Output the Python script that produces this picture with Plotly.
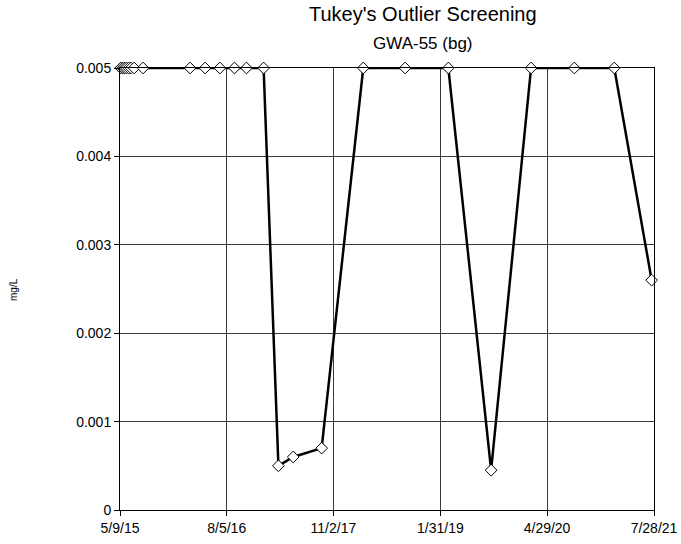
import plotly.graph_objects as go

# sample dates and concentrations (mg/L)
dates = [
    "2015-05-12", "2015-05-20", "2015-05-28", "2015-06-05", "2015-06-15",
    "2015-06-25", "2015-07-08", "2015-08-15", "2016-03-02", "2016-05-05",
    "2016-07-07", "2016-09-07", "2016-10-28", "2017-01-09", "2017-03-13",
    "2017-05-15", "2017-09-13", "2018-03-09", "2018-09-03", "2019-03-06",
    "2019-09-04", "2020-02-21", "2020-08-23", "2021-02-09", "2021-07-18",
]
values = [
    0.005, 0.005, 0.005, 0.005, 0.005,
    0.005, 0.005, 0.005, 0.005, 0.005,
    0.005, 0.005, 0.005, 0.005, 0.0005,
    0.0006, 0.0007, 0.005, 0.005, 0.005,
    0.00045, 0.005, 0.005, 0.005, 0.0026,
]

x_ticks = ["2015-05-09", "2016-08-05", "2017-11-02", "2019-01-31", "2020-04-29", "2021-07-28"]
x_labels = ["5/9/15", "8/5/16", "11/2/17", "1/31/19", "4/29/20", "7/28/21"]
y_ticks = [0, 0.001, 0.002, 0.003, 0.004, 0.005]
y_labels = ["0", "0.001", "0.002", "0.003", "0.004", "0.005"]

W, H = 681, 544
L, T, R, B = 120, 68, 27, 34
plot_w, plot_h = W - L - R, H - T - B

fig = go.Figure()
fig.add_trace(go.Scatter(
    x=dates, y=values,
    mode="lines+markers",
    line=dict(color="black", width=2.5),
    marker=dict(symbol="diamond", size=9, color="white",
                line=dict(color="black", width=1)),
    cliponaxis=False,
    showlegend=False,
))

axis_font = dict(family="Liberation Sans, Arial", size=14, color="black")

fig.update_layout(
    width=W, height=H,
    margin=dict(l=L, r=R, t=T, b=B),
    paper_bgcolor="white",
    plot_bgcolor="white",
    font=dict(family="Liberation Sans, Arial", color="black"),
    xaxis=dict(
        type="date",
        range=[x_ticks[0], x_ticks[-1]],
        tickvals=x_ticks, ticktext=x_labels,
        tickfont=axis_font,
        showgrid=True, gridcolor="#3a3a3a", gridwidth=1,
        showline=True, linecolor="black", linewidth=1, mirror=True,
        ticks="outside", ticklen=5, tickcolor="black",
        zeroline=False, automargin=False,
    ),
    yaxis=dict(
        range=[0, 0.005],
        tickvals=y_ticks, ticktext=y_labels,
        tickfont=axis_font,
        showgrid=True, gridcolor="#3a3a3a", gridwidth=1,
        showline=True, linecolor="black", linewidth=1, mirror=True,
        ticks="outside", ticklen=5, tickcolor="black",
        zeroline=False, automargin=False,
    ),
)


def px_to_paper(px, py):
    # figure pixel position -> paper fraction of the plot box
    return (px - L) / plot_w, 1 - (py - T) / plot_h


tx, ty = px_to_paper(423, 14)
fig.add_annotation(text="Tukey's Outlier Screening", x=tx, y=ty,
                   xref="paper", yref="paper", showarrow=False,
                   font=dict(size=20), xanchor="center", yanchor="middle")
sx, sy = px_to_paper(423, 44)
fig.add_annotation(text="GWA-55 (bg)", x=sx, y=sy,
                   xref="paper", yref="paper", showarrow=False,
                   font=dict(size=17), xanchor="center", yanchor="middle")
lx, ly = px_to_paper(13, 290)
fig.add_annotation(text="mg/L", textangle=-90, x=lx, y=ly,
                   xref="paper", yref="paper", showarrow=False,
                   font=dict(size=10), xanchor="center", yanchor="middle")

# drop the default 8px body margin so the figure sits at the page corner
fig.write_html("out.html", config={"displayModeBar": False},
               post_script="document.body.style.margin = '0';")
